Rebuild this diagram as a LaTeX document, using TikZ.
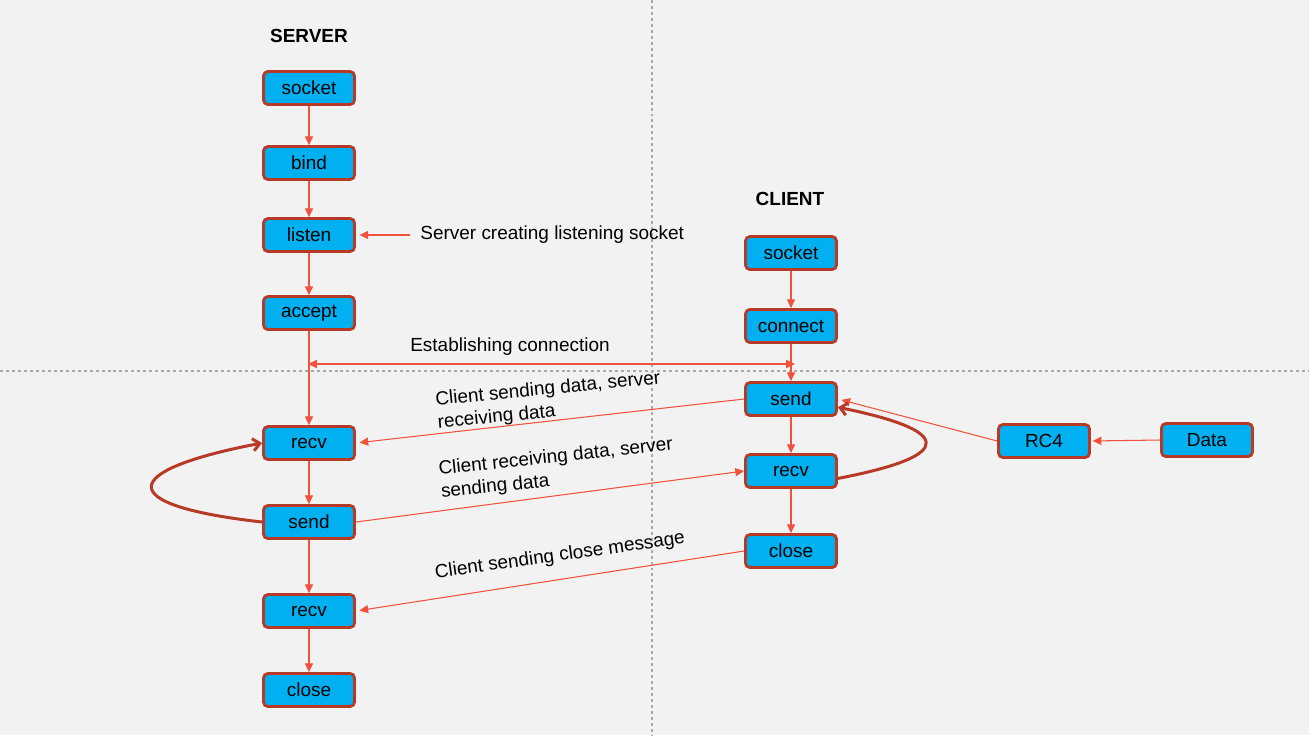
\documentclass[tikz,border=0pt]{standalone}
\usepackage{fontspec}
\setmainfont{Liberation Sans}
\usepackage{xcolor}
\usepackage{tikz}
\usetikzlibrary{arrows.meta, calc}
\definecolor{paper}{RGB}{242, 242, 242}
\definecolor{cyanfill}{RGB}{0, 176, 240}
\definecolor{brick}{RGB}{182, 58, 38}
\definecolor{tomato}{RGB}{240, 82, 60}
\definecolor{guide}{RGB}{170, 170, 170}

\begin{document}
\begin{tikzpicture}[x=0.02cm, y=-0.02cm,
  callbox/.style={rectangle, rounded corners=2.5pt,
    fill=cyanfill, draw=brick, line width=1.6pt,
    font=\fontsize{10.8pt}{13pt}\selectfont,
    minimum width=1.82cm, minimum height=0.66cm,
    text centered, inner sep=2pt},
  flow/.style={-{Triangle[length=5pt, width=4.6pt]}, color=tomato,
    line width=0.6pt},
  loopback/.style={-{Straight Barb[length=4pt, width=7pt]}, color=brick,
    line width=1.7pt},
  note/.style={font=\fontsize{10.8pt}{13.2pt}\selectfont, align=left,
    inner sep=0pt},
  title/.style={font=\fontsize{10.8pt}{13pt}\selectfont\bfseries},
  guideline/.style={color=guide, line width=0.6pt,
    dash pattern=on 1.7pt off 1.7pt}
]
\fill[paper] (0,0) rectangle (1309,735);
\useasboundingbox (0,0) rectangle (1309,735);

\draw[guideline] (652,0) -- (652,735);
\draw[guideline] (0,371) -- (1309,371);

% server side
\node[title] at (309, 36) (srvtitle) {SERVER};
\node[callbox] at (309,  88) (ssocket) {socket};
\node[callbox] at (309, 163) (sbind)   {bind};
\node[callbox] at (309, 235) (slisten) {listen};
\node[callbox] at (309, 313) (saccept) {accept};
\node[callbox] at (309, 443) (srecv)   {recv};
\node[callbox] at (309, 522) (ssend)   {send};
\node[callbox] at (309, 611) (srecvb)  {recv};
\node[callbox] at (309, 690) (sclose)  {close};

% client side
\node[title] at (790, 199) (clititle) {CLIENT};
\node[callbox] at (791, 253) (csocket)  {socket};
\node[callbox] at (791, 326) (cconnect) {connect};
\node[callbox] at (791, 399) (csend)    {send};
\node[callbox] at (791, 471) (crecv)    {recv};
\node[callbox] at (791, 551) (cclose)   {close};

\node[callbox] at (1044, 441) (rcfour) {RC4};
\node[callbox] at (1207, 440) (data)   {Data};

\draw[flow] (ssocket.south) -- (sbind.north);
\draw[flow] (sbind.south)   -- (slisten.north);
\draw[flow] (slisten.south) -- (saccept.north);
\draw[flow] (saccept.south) -- (srecv.north);
\draw[flow] (srecv.south)   -- (ssend.north);
\draw[flow] (ssend.south)   -- (srecvb.north);
\draw[flow] (srecvb.south)  -- (sclose.north);

\draw[flow] (csocket.south)  -- (cconnect.north);
\draw[flow] (cconnect.south) -- (csend.north);
\draw[flow] (csend.south)    -- (crecv.north);
\draw[flow] (crecv.south)    -- (cclose.north);

\node[note, anchor=west, inner xsep=5.7pt] at (410, 235) (lsnnote)
  {Server creating listening socket};
\draw[flow, shorten >=2pt] (lsnnote.west) -- (slisten.east);

\coordinate (estl) at (308, 364);
\coordinate (estr) at (795, 364);
\draw[flow, {Triangle[length=5pt, width=4.6pt]}-{Triangle[length=5pt, width=4.6pt]}]
  (estl) -- (estr);
\node[note] at (510, 347) (estnote) {Establishing connection};

\draw[flow, shorten >=2pt] (csend.west)  -- (srecv.east);
\draw[flow] (ssend.east)  -- (crecv.west);
\draw[flow, shorten >=2pt] (cclose.west) -- (srecvb.east);
\draw[flow, shorten >=2pt] (rcfour.west) -- (csend.east);
\draw[flow, shorten >=1pt] (data.west) -- (rcfour.east);

\node[note, rotate=5.5] at (549, 401) (sendnote)
  {Client sending data, server\\receiving data};
\node[note, rotate=6] at (557, 469) (recvnote)
  {Client receiving data, server\\sending data};
\node[note, rotate=8] at (560, 556) (closenote)
  {Client sending close message};

% loops
\draw[loopback] (ssend.west) .. controls (110, 505) and (120, 470) .. (srecv.west);
\draw[loopback] (crecv.-9) .. controls (960, 455) and (950, 430) .. (csend.-10);
\end{tikzpicture}
\end{document}
